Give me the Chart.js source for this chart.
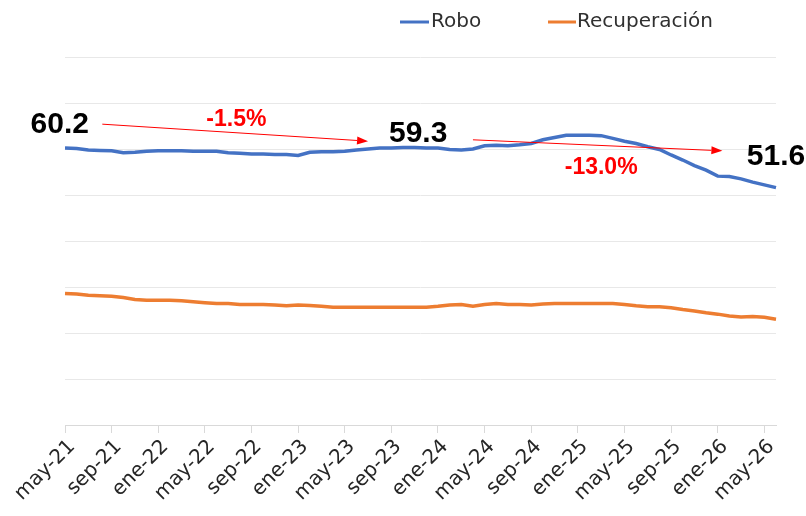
<!DOCTYPE html>
<html>
<head>
<meta charset="utf-8">
<script src="https://cdn.jsdelivr.net/npm/chart.js@4.4.1/dist/chart.umd.min.js"></script>
<style>
  html, body { margin: 0; padding: 0; background: #fff; }
</style>
</head>
<body>
<canvas id="chart" width="806" height="516"></canvas>
<script>
// meses de may-21 a jun-26
const labels = [
    'may-21', 'jun-21', 'jul-21', 'ago-21', 'sep-21', 'oct-21', 'nov-21', 'dic-21',
    'ene-22', 'feb-22', 'mar-22', 'abr-22', 'may-22', 'jun-22', 'jul-22', 'ago-22',
    'sep-22', 'oct-22', 'nov-22', 'dic-22', 'ene-23', 'feb-23', 'mar-23', 'abr-23',
    'may-23', 'jun-23', 'jul-23', 'ago-23', 'sep-23', 'oct-23', 'nov-23', 'dic-23',
    'ene-24', 'feb-24', 'mar-24', 'abr-24', 'may-24', 'jun-24', 'jul-24', 'ago-24',
    'sep-24', 'oct-24', 'nov-24', 'dic-24', 'ene-25', 'feb-25', 'mar-25', 'abr-25',
    'may-25', 'jun-25', 'jul-25', 'ago-25', 'sep-25', 'oct-25', 'nov-25', 'dic-25',
    'ene-26', 'feb-26', 'mar-26', 'abr-26', 'may-26', 'jun-26'
];

const robo = [
    60.2, 60.1, 59.8, 59.7, 59.6, 59.2, 59.3, 59.5, 59.6, 59.6,
    59.6, 59.5, 59.5, 59.5, 59.2, 59.1, 58.9, 58.9, 58.8, 58.8,
    58.6, 59.3, 59.4, 59.4, 59.5, 59.8, 60.0, 60.2, 60.2, 60.3,
    60.3, 60.2, 60.2, 59.9, 59.8, 60.0, 60.7, 60.8, 60.7, 60.9,
    61.2, 62.0, 62.5, 63.0, 63.0, 63.0, 62.9, 62.3, 61.7, 61.2,
    60.5, 59.9, 58.7, 57.6, 56.4, 55.4, 54.1, 54.0, 53.5, 52.8,
    52.2, 51.6
];

const recuperacion = [
    28.6, 28.5, 28.2, 28.1, 28.0, 27.7, 27.3, 27.1, 27.1, 27.1,
    27.0, 26.8, 26.6, 26.4, 26.4, 26.2, 26.2, 26.2, 26.1, 25.9,
    26.1, 26.0, 25.8, 25.6, 25.6, 25.6, 25.6, 25.6, 25.6, 25.6,
    25.6, 25.6, 25.8, 26.1, 26.2, 25.8, 26.2, 26.4, 26.2, 26.2,
    26.1, 26.3, 26.4, 26.4, 26.4, 26.4, 26.4, 26.4, 26.2, 25.9,
    25.7, 25.7, 25.5, 25.1, 24.8, 24.4, 24.1, 23.7, 23.5, 23.6,
    23.4, 23.0
];

const valueLabels = ['60.2', '59.3', '51.6'];
const changeLabels = ['-1.5%', '-13.0%'];

const BLUE = '#4472C4';
const ORANGE = '#ED7D31';
const FONT = '"DejaVu Sans", sans-serif';

function arrow(c, x1, y1, x2, y2) {
    const a = Math.atan2(y2 - y1, x2 - x1);
    const len = 11, w = 4;
    c.beginPath();
    c.moveTo(x1, y1);
    c.lineTo(x2 - Math.cos(a) * len, y2 - Math.sin(a) * len);
    c.stroke();
    c.beginPath();
    c.moveTo(x2, y2);
    c.lineTo(x2 - Math.cos(a) * len - Math.sin(a) * w, y2 - Math.sin(a) * len + Math.cos(a) * w);
    c.lineTo(x2 - Math.cos(a) * len + Math.sin(a) * w, y2 - Math.sin(a) * len - Math.cos(a) * w);
    c.closePath();
    c.fill();
}

const overlay = {
    id: 'overlay',
    afterDraw(chart) {
        const c = chart.ctx;
        const xs = chart.scales.x, ys = chart.scales.y;
        const px = v => xs.getPixelForValue(v);
        const py = v => ys.getPixelForValue(v);
        c.save();

        // leyenda
        c.lineWidth = 3;
        c.font = '20px ' + FONT;
        c.textBaseline = 'middle';
        c.textAlign = 'left';
        c.fillStyle = '#303030';
        c.strokeStyle = BLUE;
        c.beginPath(); c.moveTo(400, 22); c.lineTo(429, 22); c.stroke();
        c.fillText('Robo', 431, 22);
        c.strokeStyle = ORANGE;
        c.beginPath(); c.moveTo(548, 22); c.lineTo(576, 22); c.stroke();
        c.fillText('Recuperación', 577, 22);

        // flechas
        c.strokeStyle = '#FF0000';
        c.fillStyle = '#FF0000';
        c.lineWidth = 1;
        arrow(c, px(3.2), py(65.4), px(26.0), py(61.7));
        arrow(c, px(35.0), py(62.0), px(56.4), py(59.6));

        // valores
        c.textAlign = 'center';
        c.fillStyle = '#000';
        c.font = 'bold 30px "Liberation Sans", Arial, sans-serif';
        c.fillText(valueLabels[0], px(-0.45), py(65.3));
        c.fillText(valueLabels[1], px(30.3), py(63.3));
        c.fillText(valueLabels[2], px(61.0), py(58.4));

        // variaciones
        c.fillStyle = '#FF0000';
        c.font = 'bold 23px "Liberation Sans", Arial, sans-serif';
        c.fillText(changeLabels[0], px(14.7), py(66.3));
        c.fillText(changeLabels[1], px(46.0), py(56.0));
        c.restore();
    }
};

new Chart(document.getElementById('chart'), {
    type: 'line',
    data: {
        labels: labels,
        datasets: [
            { label: 'Robo', data: robo, borderColor: BLUE, borderWidth: 3.5, pointRadius: 0, tension: 0 },
            { label: 'Recuperación', data: recuperacion, borderColor: ORANGE, borderWidth: 3.5, pointRadius: 0, tension: 0 }
        ]
    },
    options: {
        responsive: false,
        animation: false,
        devicePixelRatio: 1,
        layout: { padding: { top: 57, right: 30, left: 0, bottom: 0 } },
        plugins: {
            legend: { display: false },
            tooltip: { enabled: false }
        },
        scales: {
            x: {
                offset: false,
                grid: {
                    drawOnChartArea: false,
                    drawTicks: true,
                    tickLength: 8,
                    color: ctx => ctx.index % 4 === 0 ? '#d9d9d9' : 'rgba(0,0,0,0)'
                },
                border: { color: '#d9d9d9', width: 1 },
                ticks: {
                    autoSkip: false,
                    maxRotation: 45,
                    minRotation: 45,
                    padding: 2,
                    labelOffset: 7,
                    color: '#262626',
                    font: { family: FONT, size: 20 },
                    callback: (v, i) => i % 4 === 0 ? labels[i] : ''
                },
                afterFit: s => { s.height = 91; }
            },
            y: {
                min: 0,
                max: 80,
                ticks: { stepSize: 10, display: false },
                grid: { color: '#e8e8e8', drawTicks: false },
                border: { display: false },
                afterFit: s => { s.width = 65; }
            }
        }
    },
    plugins: [overlay]
});
</script>
</body>
</html>
